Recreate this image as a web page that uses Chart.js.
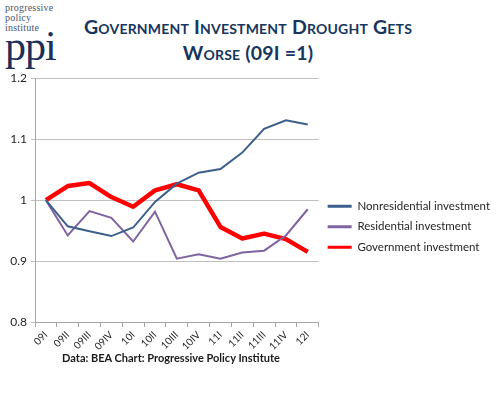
<!DOCTYPE html>
<html>
<head>
<meta charset="utf-8">
<script src="https://cdn.jsdelivr.net/npm/chart.js@4/dist/chart.umd.min.js"></script>
<style>
  html, body { margin: 0; padding: 0; background: #fff; }
  body { width: 500px; height: 394px; position: relative; overflow: hidden; font-family: Lato, "Open Sans", sans-serif; }
  #logo { position: absolute; left: 5px; top: 3px; color: #1c2f5a; font-family: "Liberation Serif", "DejaVu Serif", serif; }
  #logo .small { font-size: 10px; line-height: 10px; color: #4a5570; letter-spacing: 0.2px; }
  #logo .big { font-size: 42px; line-height: 30px; margin-top: -2px; letter-spacing: -1px; }
  #title { position: absolute; left: 60px; width: 376px; top: 14px; text-align: center; color: #17365d;
           font-family: Lato, "Open Sans", sans-serif; font-weight: bold; font-size: 19.5px; line-height: 26px;
           font-variant: small-caps; letter-spacing: 0.2px; }
  #note { position: absolute; left: 0; width: 342px; top: 351px; text-align: center; font-weight: bold; font-size: 11px; color: #1a1a1a; }
  #wrap { position: absolute; left: 0; top: 67px; width: 500px; height: 290px; }
</style>
</head>
<body>
<div id="logo"><div class="small">progressive<br>policy<br>institute</div><div class="big">ppi</div></div>
<div id="title">Government Investment Drought Gets<br>Worse (09I =1)</div>
<div id="wrap"><canvas id="c" width="500" height="290"></canvas></div>
<div id="note">Data: BEA Chart: Progressive Policy Institute</div>
<script>
const categories = ["09I","09II","09III","09IV","10I","10II","10III","10IV","11I","11II","11III","11IV","12I"];
const nonresidential = [1.000, 0.957, 0.949, 0.941, 0.955, 0.997, 1.027, 1.045, 1.051, 1.078, 1.117, 1.131, 1.124];
const residential    = [1.000, 0.942, 0.982, 0.971, 0.932, 0.981, 0.904, 0.911, 0.904, 0.914, 0.917, 0.942, 0.985];
const government     = [1.000, 1.023, 1.028, 1.005, 0.989, 1.016, 1.026, 1.016, 0.956, 0.937, 0.945, 0.936, 0.915];
const yTicks = [0.8, 0.9, 1.0, 1.1, 1.2];

const FONT = "Lato, 'Open Sans', sans-serif";
new Chart(document.getElementById('c'), {
  type: 'line',
  data: {
    labels: categories,
    datasets: [
      { label: 'Nonresidential investment', data: nonresidential, borderColor: '#3c5f8b', backgroundColor: '#3c5f8b', borderWidth: 2, pointRadius: 0, tension: 0 },
      { label: 'Residential investment', data: residential, borderColor: '#8064a2', backgroundColor: '#8064a2', borderWidth: 2, pointRadius: 0, tension: 0 },
      { label: 'Government investment', data: government, borderColor: '#ff0000', backgroundColor: '#ff0000', borderWidth: 4.5, pointRadius: 0, tension: 0, borderJoinStyle: 'round' }
    ]
  },
  options: {
    responsive: false,
    animation: false,
    layout: { padding: { top: 10, left: 0, right: 0, bottom: 0 } },
    plugins: {
      tooltip: { enabled: false },
      legend: {
        position: 'right',
        align: 'center',
        maxWidth: 188,
        title: { display: true, text: '', padding: { top: 0, bottom: 5 }, font: { size: 12 } },
        labels: {
          boxWidth: 24, boxHeight: 3, padding: 9,
          color: '#262626',
          font: { family: FONT, size: 11.5 },
          generateLabels(chart) {
            const items = Chart.defaults.plugins.legend.labels.generateLabels(chart);
            items.forEach(it => { it.lineWidth = 0; it.fillStyle = it.strokeStyle; });
            return items;
          }
        }
      }
    },
    scales: {
      x: {
        type: 'category',
        offset: true,
        afterFit(s) { s.height = 35; },
        grid: { display: true, drawOnChartArea: false, drawTicks: true, tickLength: 5, color: '#a6a6a6', offset: true },
        border: { color: '#a6a6a6' },
        ticks: { minRotation: 45, maxRotation: 45, autoSkip: false, color: '#262626', font: { family: FONT, size: 10 }, padding: 2 }
      },
      y: {
        min: 0.8, max: 1.2,
        afterFit(s) { s.width = 35; },
        afterBuildTicks(s) { s.ticks = yTicks.map(v => ({ value: v })); },
        grid: { color: '#bfbfbf', drawTicks: true, tickLength: 4 },
        border: { color: '#a6a6a6' },
        ticks: { color: '#262626', font: { family: FONT, size: 12 }, padding: 4, callback: v => String(Math.round(v * 10) / 10) }
      }
    }
  }
});
</script>
</body>
</html>
